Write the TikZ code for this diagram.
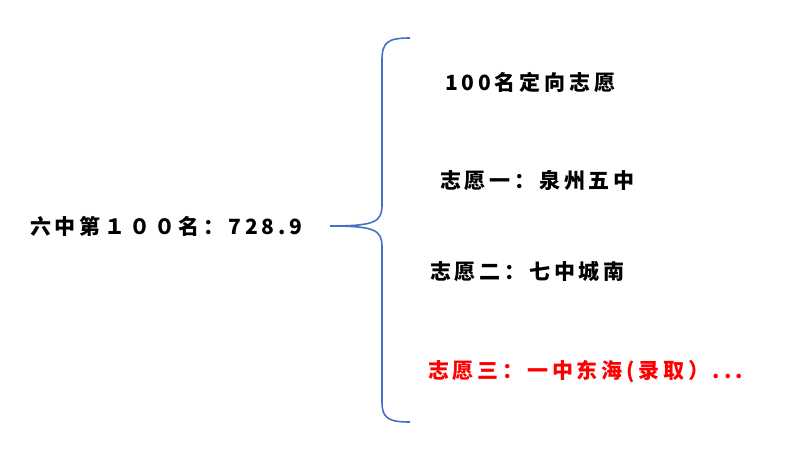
\documentclass[tikz,border=0pt]{standalone}
\usepackage{fontspec}
\setmainfont{Noto Sans CJK SC}[LetterSpace=18]
\definecolor{bl}{RGB}{68,114,196}
\begin{document}
\begin{tikzpicture}[x=1pt,y=-1pt,txt/.style={anchor=west,font=\fontsize{21}{24}\selectfont\bfseries,inner sep=0}]
\useasboundingbox (0,0) rectangle (795,448);
\draw[bl,line width=1.6pt] (410,38) .. controls (388,38) and (382,42) .. (382,60) -- (382,205)
 .. controls (382,222) and (375,226) .. (330,226)
 .. controls (375,226) and (382,230) .. (382,247) -- (382,402)
 .. controls (382,418) and (388,422) .. (410,422);
\node[txt] (l) at (30,226) {六中第１００名：728.9};
\node[txt] (a) at (445,82) {100名定向志愿};
\node[txt] (b) at (440,181) {志愿一：泉州五中};
\node[txt] (c) at (430,272) {志愿二：七中城南};
\node[txt,text=red] (d) at (428,372) {志愿三：一中东海(录取）...};
\end{tikzpicture}
\end{document}
